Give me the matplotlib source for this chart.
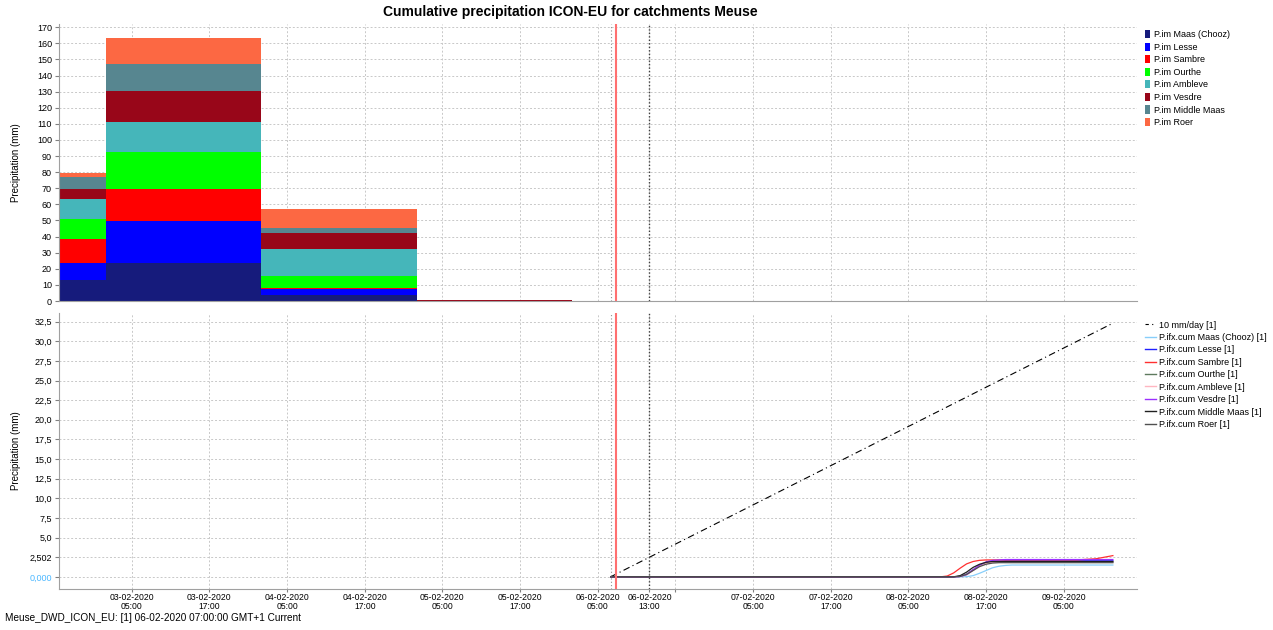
import numpy as np
import matplotlib
matplotlib.use("Agg")
import matplotlib.pyplot as plt
from matplotlib.patches import Patch
from matplotlib.lines import Line2D
from datetime import datetime, timedelta

plt.rcParams['font.family'] = ['Liberation Sans', 'DejaVu Sans']

# --- data -------------------------------------------------------------
catchments = ["Maas (Chooz)", "Lesse", "Sambre", "Ourthe", "Ambleve",
              "Vesdre", "Middle Maas", "Roer"]
bar_colors = ["#161B7C", "#0000FF", "#FF0000", "#00FF00", "#45B6BA",
              "#980619", "#578690", "#FC6843"]

# daily bars (start of each day, local time)
bar_starts = ["02-02-2020 01:00", "03-02-2020 01:00", "04-02-2020 01:00",
              "05-02-2020 01:00"]
# mm per catchment for each day
bar_maas = [13.2, 23.8, 3.7, 0.0]
bar_lesse = [10.6, 25.6, 3.7, 0.0]
bar_sambre = [14.5, 19.9, 0.6, 0.0]
bar_ourthe = [12.8, 23.2, 7.7, 0.1]
bar_ambleve = [12.4, 18.8, 16.5, 0.2]
bar_vesdre = [5.8, 19.2, 9.8, 0.6]
bar_middle = [7.4, 16.8, 3.3, 0.0]
bar_roer = [2.9, 16.3, 11.8, 0.0]

# forecast cumulative, hours after T0
t0 = "06-02-2020 07:00"
ref_hours = [0, 77.6]
ref_vals = [0, 32.3]

cum_hours = [0, 51, 52, 53, 54, 55, 56, 57, 58, 59, 60, 61, 62, 66, 72, 75, 77.6]
cum_maas = [0, 0, 0, 0, 0, 0.02, 0.15, 0.45, 0.8, 1.15, 1.35, 1.45, 1.5, 1.5, 1.5, 1.5, 1.5]
cum_lesse = [0, 0, 0, 0, 0.05, 0.3, 0.85, 1.4, 1.8, 1.95, 2.0, 2.05, 2.05, 2.05, 2.05, 2.05, 2.05]
cum_sambre = [0, 0, 0.1, 0.5, 1.1, 1.65, 1.95, 2.1, 2.15, 2.15, 2.15, 2.15, 2.15, 2.15, 2.15, 2.3, 2.7]
cum_ourthe = [0, 0, 0, 0, 0.05, 0.35, 0.9, 1.4, 1.75, 1.85, 1.9, 1.9, 1.9, 1.9, 1.9, 1.9, 1.9]
cum_ambleve = [0, 0, 0, 0, 0.03, 0.25, 0.8, 1.35, 1.7, 1.85, 1.95, 1.95, 1.95, 1.95, 1.95, 1.95, 1.95]
cum_vesdre = [0, 0, 0, 0, 0.05, 0.3, 0.9, 1.5, 1.9, 2.1, 2.15, 2.2, 2.2, 2.2, 2.2, 2.2, 2.2]
cum_middle = [0, 0, 0, 0, 0.15, 0.6, 1.2, 1.6, 1.85, 1.95, 1.95, 1.95, 1.95, 1.95, 1.95, 1.95, 1.95]
cum_roer = [0, 0, 0, 0, 0.05, 0.3, 0.8, 1.3, 1.6, 1.75, 1.8, 1.8, 1.8, 1.8, 1.8, 1.8, 1.8]
line_colors = ["#87CEFA", "#2020FF", "#FF3030", "#5E7A5E", "#FFB6C1",
               "#9B30FF", "#202020", "#505050"]

fmt = "%d-%m-%Y %H:%M"
T0 = datetime.strptime(t0, fmt)
starts = [datetime.strptime(s, fmt) for s in bar_starts]
xmin = datetime(2020, 2, 2, 17, 45)
xmax = datetime(2020, 2, 9, 16, 20)

fig = plt.figure(figsize=(12.73, 6.3), dpi=100)
ax1 = fig.add_axes([0.0463, 0.5222, 0.8469, 0.4397])
ax2 = fig.add_axes([0.0463, 0.0651, 0.8469, 0.4381])

# --- top: stacked daily bars ---
bars = [bar_maas, bar_lesse, bar_sambre, bar_ourthe, bar_ambleve,
        bar_vesdre, bar_middle, bar_roer]
bottom = np.zeros(len(starts))
for vals, col in zip(bars, bar_colors):
    ax1.bar(starts, vals, width=1.0, bottom=bottom, align='edge',
            color=col, edgecolor='none', zorder=2)
    bottom += np.array(vals)

ax1.set_ylim(0, 172)
ax1.set_yticks(np.arange(0, 171, 10))

# --- bottom: cumulative lines ---
ref_t = [T0 + timedelta(hours=h) for h in ref_hours]
ax2.plot(ref_t, ref_vals, color='black', lw=0.8, ls=(0, (6, 3, 1, 3)), zorder=3)
cum_t = [T0 + timedelta(hours=h) for h in cum_hours]
cums = [cum_maas, cum_lesse, cum_sambre, cum_ourthe, cum_ambleve,
        cum_vesdre, cum_middle, cum_roer]
for vals, col in zip(cums, line_colors):
    ax2.plot(cum_t, vals, color=col, lw=0.9, zorder=3)

ax2.set_ylim(-1.55, 33.6)
yt = [0, 2.502] + list(np.arange(5, 32.6, 2.5))
ax2.set_yticks(yt)
ylabels = ["0,000", "2,502"] + [f"{v:.1f}".replace('.', ',') for v in yt[2:]]
ax2.set_yticklabels(ylabels)
ax2.get_yticklabels()[0].set_color('#4DB8FF')

# --- common x axis / styling ---
ticks = []
d = datetime(2020, 2, 3, 5, 0)
while d <= xmax:
    ticks.append(d)
    d += timedelta(hours=12)
extra = datetime(2020, 2, 6, 13, 0)
all_ticks = sorted(ticks + [extra])
labels = []
for t in all_ticks:
    if t == datetime(2020, 2, 6, 17, 0):
        labels.append("")
    else:
        labels.append(t.strftime("%d-%m-%Y\n%H:%M"))

for ax in (ax1, ax2):
    ax.set_xlim(xmin, xmax)
    ax.set_xticks(all_ticks)
    ax.grid(True, color='#C8C8C8', ls=(0, (2, 2)), lw=0.7, zorder=0)
    ax.set_axisbelow(True)
    for s in ax.spines.values():
        s.set_color('#A0A0A0')
    ax.spines['top'].set_visible(False)
    ax.spines['right'].set_visible(False)
    ax.tick_params(axis='y', labelsize=6.5, length=3, color='#808080', pad=2)
    ax.tick_params(axis='x', labelsize=6.2, length=2, color='#808080', pad=1)
    ax.set_ylabel("Precipitation (mm)", fontsize=7)
    ax.yaxis.set_label_coords(-0.035, 0.5)
    ax.axvline(T0, color='#909090', ls=(0, (1, 2)), lw=0.8, zorder=4)
    ax.axvline(datetime(2020, 2, 6, 7, 50), color='#FF7070', lw=1.5, zorder=4)
    ax.axvline(extra, color='#404040', ls=(0, (1, 1.5)), lw=1.0, zorder=4)

ax1.tick_params(axis='x', labelbottom=False, length=0)
ax2.set_xticklabels(labels, linespacing=0.95)

# legends
leg_font = {'family': 'Liberation Sans', 'size': 6.5}
h1 = [Patch(facecolor=c, edgecolor='none') for c in bar_colors]
l1 = ["P.im " + c for c in catchments]
fig.legend(h1, l1, loc='upper left', bbox_to_anchor=(0.897, 0.958),
           frameon=False, prop=leg_font,
           handlelength=0.5, handleheight=1.0,
           handletextpad=0.4, labelspacing=0.38, borderaxespad=0)

h2 = [Line2D([0], [0], color='black', lw=0.8, ls=(0, (3, 3, 1, 3)))]
h2 += [Line2D([0], [0], color=c, lw=1.0) for c in line_colors]
l2 = ["10 mm/day [1]"] + ["P.ifx.cum " + c + " [1]" for c in catchments]
fig.legend(h2, l2, loc='upper left', bbox_to_anchor=(0.897, 0.497),
           frameon=False, prop=leg_font,
           handlelength=1.2,
           handletextpad=0.3, labelspacing=0.38, borderaxespad=0)

fig.text(0.448, 0.981, "Cumulative precipitation ICON-EU for catchments Meuse",
         ha='center', va='center', fontsize=10, fontweight='bold')
fig.text(0.004, 0.019, "Meuse_DWD_ICON_EU: [1] 06-02-2020 07:00:00 GMT+1 Current",
         ha='left', va='center', fontsize=7.2)

fig.savefig("out.png", dpi=100)
